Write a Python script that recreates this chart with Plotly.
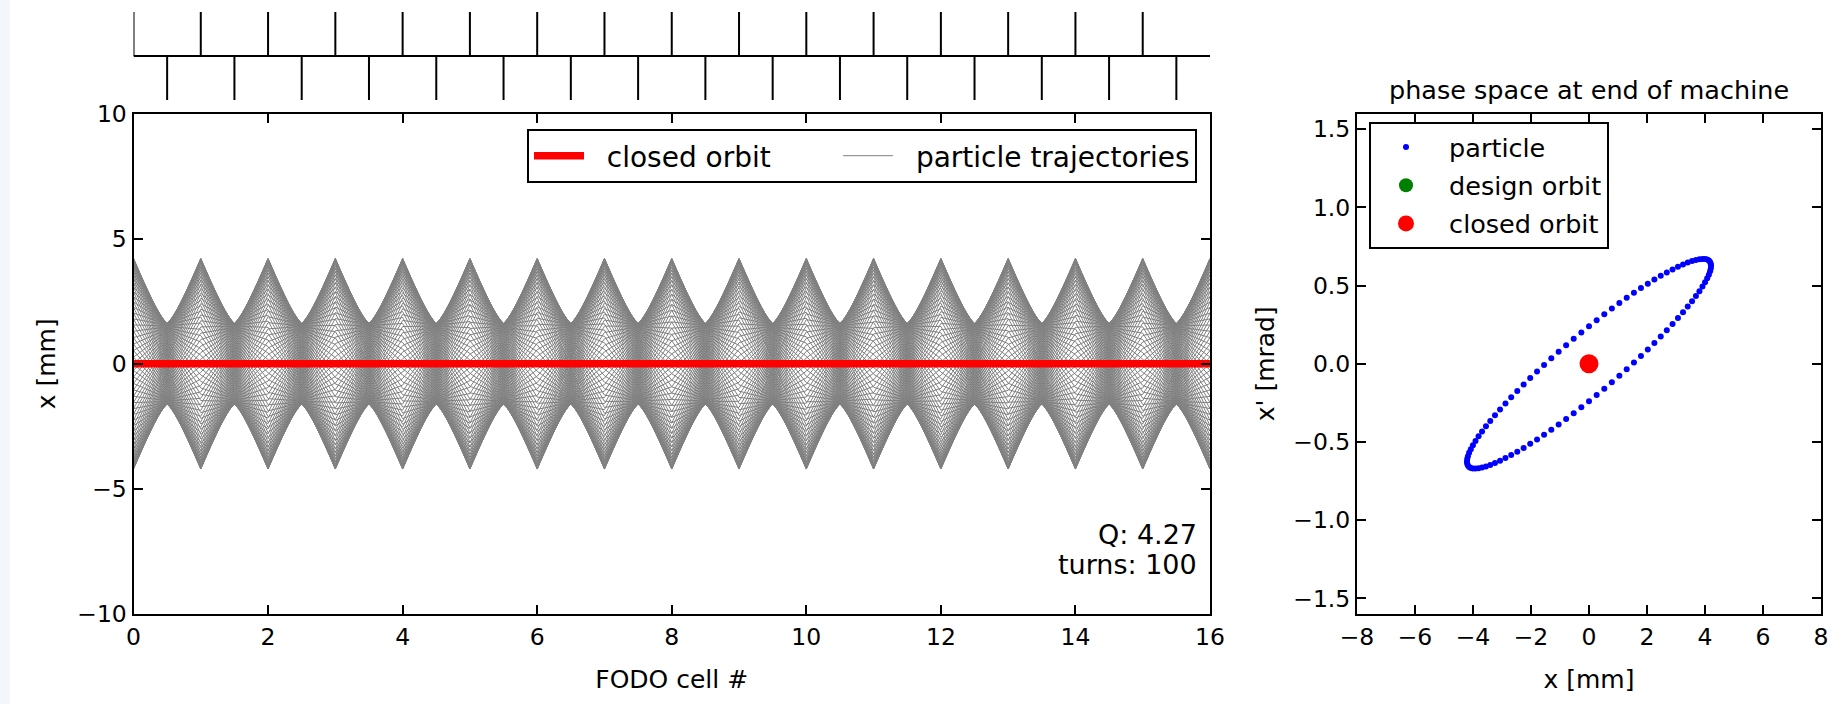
import numpy as np
import plotly.graph_objects as go

# ---------------- data / parameters ----------------
N_CELLS = 16            # FODO cells in the machine
TUNE_Q = 4.27           # machine tune (annotation)
N_TURNS = 100           # number of tracked turns (annotation)
CELL_LENGTH_M = 10.0    # FODO cell length [m]
X0_MM = 0.0             # initial particle offset [mm]
XP0_MRAD = 0.24         # initial particle angle [mrad]
F_QUAD_POS = [float(k) for k in range(N_CELLS)]          # focusing quads (drawn upward)
D_QUAD_POS = [k + 0.5 for k in range(N_CELLS)]           # defocusing quads (drawn downward)
CLOSED_ORBIT_S = [0.0, 16.0]
CLOSED_ORBIT_X = [0.0, 0.0]
DESIGN_ORBIT_PS = (0.0, 0.0)
CLOSED_ORBIT_PS = (0.0, 0.0)
LEFT_XTICKS = [0, 2, 4, 6, 8, 10, 12, 14, 16]
LEFT_YTICKS = [-10, -5, 0, 5, 10]
RIGHT_XTICKS = [-8, -6, -4, -2, 0, 2, 4, 6, 8]
RIGHT_YTICKS = [-1.5, -1.0, -0.5, 0.0, 0.5, 1.0, 1.5]

# ---------------- thin-lens FODO tracking ----------------
mu = 2 * np.pi * TUNE_Q / N_CELLS
L_half = CELL_LENGTH_M / 2
f_quad = L_half / (2 * np.sin(mu / 2))

traj_s, traj_x = [], []
end_x, end_xp = [], []
x, xp = X0_MM, XP0_MRAD
for turn in range(N_TURNS):
    ss, xs = [0.0], [x]
    for c in range(N_CELLS):
        xp -= x / f_quad
        x += xp * L_half
        ss.append(D_QUAD_POS[c]); xs.append(x)
        xp += x / f_quad
        x += xp * L_half
        ss.append(c + 1.0); xs.append(x)
    end_x.append(x); end_xp.append(xp)
    traj_s += ss + [None]
    traj_x += xs + [None]

# lattice schematic
lat_s, lat_y = [0.0, float(N_CELLS), None], [0.0, 0.0, None]
for s in F_QUAD_POS:
    lat_s += [s, s, None]; lat_y += [0.0, 1.0, None]
for s in D_QUAD_POS:
    lat_s += [s, s, None]; lat_y += [0.0, -1.0, None]

# ---------------- layout helpers ----------------
W, H = 1837, 704
def fx(p): return p / W
def fy(p): return 1 - p / H

FONT = "DejaVu Sans"
FS_TICK = 23.5
FS_LABEL = 25
FS_TITLE = 25.5
FS_LEG_L = 28
FS_LEG_R = 25.5
FS_ANN = 27
NB = "\u00a0"

fig = go.Figure()

fig.add_trace(go.Scatter(x=traj_s, y=traj_x, mode="lines",
                         line=dict(color="#808080", width=1),
                         name=NB * 2 + "particle trajectories", legend="legend",
                         legendrank=2, xaxis="x", yaxis="y", hoverinfo="skip"))
fig.add_trace(go.Scatter(x=CLOSED_ORBIT_S, y=CLOSED_ORBIT_X, mode="lines",
                         line=dict(color="#ff0000", width=7.5),
                         name=NB * 2 + "closed orbit" + NB * 7, legend="legend", legendrank=1,
                         xaxis="x", yaxis="y"))
fig.add_trace(go.Scatter(x=lat_s, y=lat_y, mode="lines",
                         line=dict(color="black", width=2),
                         showlegend=False, xaxis="x3", yaxis="y3", hoverinfo="skip"))

fig.add_trace(go.Scatter(x=end_x, y=end_xp, mode="markers",
                         marker=dict(color="#0000ff", size=6),
                         name=NB + "particle", legend="legend2", legendgroup="g1",
                         xaxis="x2", yaxis="y2"))
fig.add_trace(go.Scatter(x=[DESIGN_ORBIT_PS[0]], y=[DESIGN_ORBIT_PS[1]], mode="markers",
                         marker=dict(color="#008000", size=14),
                         name=NB + "design orbit", legend="legend2", legendgroup="g2",
                         xaxis="x2", yaxis="y2"))
fig.add_trace(go.Scatter(x=[CLOSED_ORBIT_PS[0]], y=[CLOSED_ORBIT_PS[1]], mode="markers",
                         marker=dict(color="#ff0000", size=19),
                         name=NB + "closed orbit", legend="legend2", legendgroup="g3",
                         xaxis="x2", yaxis="y2"))

axis_common = dict(showline=True, linewidth=2, linecolor="black", mirror="ticks",
                   ticks="inside", ticklen=9, tickwidth=1.5, tickcolor="black",
                   showgrid=False, zeroline=False, automargin=False,
                   tickfont=dict(family=FONT, size=FS_TICK, color="black"))

L_dom = [fx(133.5), fx(1210)]
R_dom = [fx(1357), fx(1821)]
Y_dom = [fy(614), fy(113.5)]

fig.update_layout(
    width=W, height=H,
    margin=dict(l=0, r=0, t=0, b=0, autoexpand=False),
    paper_bgcolor="white", plot_bgcolor="white",
    font=dict(family=FONT, size=FS_LABEL, color="black"),
    xaxis=dict(domain=L_dom, range=[0, 16], anchor="y", tickvals=LEFT_XTICKS,
               ticklabelstandoff=1,
               title=dict(text="FODO cell #", font=dict(size=FS_LABEL), standoff=20), **axis_common),
    yaxis=dict(domain=Y_dom, range=[-10, 10], anchor="x", tickvals=LEFT_YTICKS,
               title=dict(text="x [mm]", font=dict(size=FS_LABEL), standoff=14), **axis_common),
    xaxis2=dict(domain=R_dom, range=[-8, 8], anchor="y2", tickvals=RIGHT_XTICKS,
                ticklabelstandoff=1,
                title=dict(text="x [mm]", font=dict(size=FS_LABEL), standoff=20), **axis_common),
    yaxis2=dict(domain=Y_dom, range=[-1.6, 1.6], anchor="x2", tickvals=RIGHT_YTICKS,
                tickformat=".1f",
                title=dict(text="x' [mrad]", font=dict(size=FS_LABEL), standoff=11), **axis_common),
    xaxis3=dict(domain=L_dom, range=[0, 16], anchor="y3", visible=False),
    yaxis3=dict(domain=[fy(104), fy(12)], range=[-48 / 44, 1.0], anchor="x3", visible=False),
    legend=dict(orientation="h", x=fx(1197), y=fy(129), xanchor="right", yanchor="top",
                bgcolor="white", bordercolor="black", borderwidth=2,
                font=dict(family=FONT, size=FS_LEG_L), itemwidth=50),
    legend2=dict(orientation="v", x=fx(1369), y=fy(122), xanchor="left", yanchor="top",
                 bgcolor="white", bordercolor="black", borderwidth=2,
                 font=dict(family=FONT, size=FS_LEG_R), itemsizing="trace",
                 itemwidth=60, tracegroupgap=2),
    annotations=[
        dict(text="phase space at end of machine", xref="paper", yref="paper",
             x=(R_dom[0] + R_dom[1]) / 2, y=fy(90), xanchor="center", yanchor="middle",
             showarrow=False, font=dict(family=FONT, size=FS_TITLE)),
        dict(text=f"Q: {TUNE_Q}", xref="paper", yref="paper", x=fx(1199), y=fy(534),
             xanchor="right", yanchor="middle", showarrow=False, font=dict(family=FONT, size=FS_ANN)),
        dict(text=f"turns: {N_TURNS}", xref="paper", yref="paper", x=fx(1199), y=fy(564),
             xanchor="right", yanchor="middle", showarrow=False, font=dict(family=FONT, size=FS_ANN)),
    ],
    shapes=[dict(type="rect", xref="paper", yref="paper", x0=0, x1=fx(10), y0=0, y1=1,
                 fillcolor="#f3f6fa", line=dict(width=0), layer="below")],
)

fig.write_html("out.html", config={"displayModeBar": False},
               post_script="document.body.style.margin='0';document.body.style.padding='0';")
